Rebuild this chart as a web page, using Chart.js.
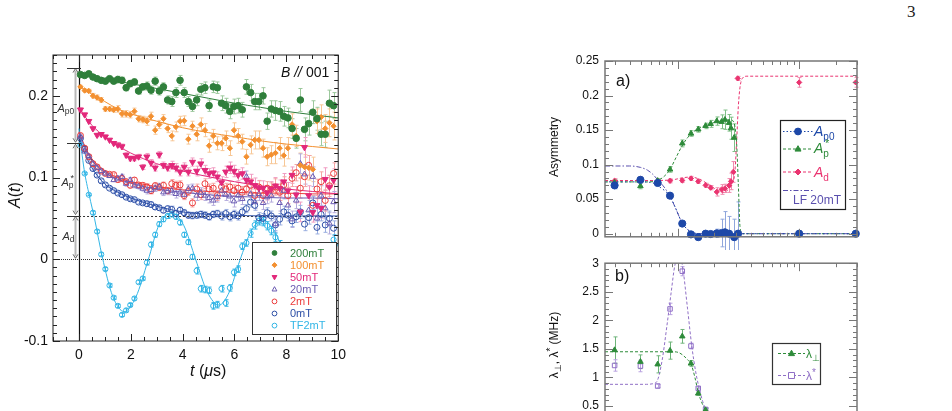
<!DOCTYPE html>
<html>
<head>
<meta charset="utf-8">
<script src="https://cdn.jsdelivr.net/npm/chart.js@4.4.1/dist/chart.umd.min.js"></script>
<style>
  html, body { margin: 0; padding: 0; background: #fff; }
  body { width: 952px; height: 411px; overflow: hidden; position: relative; }
  canvas { position: absolute; }
  #pageNo { position: absolute; left: 907px; top: 2px; font: 17px "Liberation Serif", serif; color: #222; }
</style>
</head>
<body>
<div id="pageNo">3</div>
<canvas id="leftChart" width="352" height="411" style="left:0;top:0"></canvas>
<canvas id="asymChart" width="412" height="250" style="left:540px;top:0"></canvas>
<canvas id="rateChart" width="412" height="200" style="left:540px;top:250px"></canvas>
<script>
// ---------- left panel: A(t) spectra ----------
const fieldLabels = ['200mT', '100mT', '50mT', '20mT', '2mT', '0mT', 'TF2mT'];
const leftXTicks = [0, 2, 4, 6, 8, 10];
const leftYTicks = [-0.1, 0, 0.1, 0.2];

const times = [0.06,0.22,0.38,0.54,0.70,0.86,1.02,1.18,1.34,1.50,1.66,1.82,1.98,2.14,2.30,2.46,2.62,2.78,2.94,3.10,
  3.26,3.42,3.58,3.74,3.90,4.06,4.22,4.38,4.54,4.70,4.86,5.02,5.18,5.34,5.50,5.66,5.82,5.98,6.14,6.30,
  6.46,6.62,6.78,6.94,7.10,7.26,7.42,7.58,7.74,7.90,8.06,8.22,8.38,8.54,8.70,8.86,9.02,9.18,9.34,9.50,9.66,9.82];

const a200 = [0.226,0.225,0.227,0.223,0.221,0.219,0.218,0.221,0.218,0.220,0.219,0.210,0.215,0.217,0.206,0.211,0.212,0.207,0.218,0.206,
  0.211,0.195,0.193,0.204,0.219,0.204,0.193,0.187,0.195,0.208,0.210,0.188,0.211,0.210,0.191,0.188,0.181,0.187,0.188,0.183,
  0.211,0.204,0.193,0.193,0.200,0.169,0.184,0.182,0.181,0.175,0.173,0.160,0.148,0.195,0.159,0.166,0.180,0.172,0.153,0.153,0.191,0.188];
const a100 = [0.211,0.2065,0.206,0.200,0.198,0.195,0.184,0.184,0.183,0.184,0.178,0.178,0.177,0.181,0.172,0.171,0.169,0.175,0.158,0.165,
  0.172,0.160,0.151,0.162,0.169,0.1695,0.147,0.163,0.153,0.165,0.158,0.139,0.151,0.142,0.142,0.148,0.136,0.158,0.151,0.144,
  0.1255,0.140,0.146,0.146,0.136,0.1255,0.128,0.130,0.136,0.127,0.136,0.165,0.151,0.115,0.113,0.112,0.110,0.169,0.174,0.160,0.167,0.163];
const a50 = [0.183,0.177,0.169,0.160,0.152,0.153,0.150,0.146,0.142,0.140,0.138,0.1275,0.1235,0.1235,0.1255,0.113,0.1255,0.118,0.112,0.128,
  0.115,0.112,0.115,0.112,0.107,0.113,0.107,0.119,0.108,0.117,0.109,0.105,0.106,0.101,0.094,0.107,0.112,0.108,0.103,0.105,
  0.097,0.095,0.0905,0.087,0.087,0.0815,0.086,0.090,0.087,0.095,0.084,0.103,0.079,0.058,0.137,0.078,0.0575,0.066,0.0625,0.098,0.0885,0.0967];
const a20 = [0.150,0.132,0.126,0.117,0.112,0.108,0.105,0.102,0.097,0.099,0.101,0.0925,0.097,0.0905,0.089,0.0865,0.084,0.085,0.087,0.089,
  0.082,0.083,0.084,0.080,0.082,0.079,0.086,0.087,0.078,0.0815,0.078,0.075,0.072,0.076,0.084,0.079,0.077,0.071,0.078,0.074,
  0.101,0.080,0.070,0.080,0.069,0.076,0.078,0.043,0.069,0.084,0.066,0.049,0.072,0.117,0.104,0.060,0.101,0.050,0.078,0.0625,0.044,0.070];
const a2 = [0.1515,0.136,0.1255,0.117,0.113,0.108,0.105,0.104,0.1037,0.0975,0.099,0.095,0.0905,0.097,0.091,0.0905,0.0885,0.084,0.090,0.088,
  0.0905,0.084,0.0925,0.0905,0.091,0.078,0.083,0.069,0.086,0.079,0.0925,0.086,0.087,0.078,0.0885,0.086,0.0885,0.084,0.087,0.082,
  0.086,0.0905,0.078,0.0885,0.078,0.087,0.0855,0.0885,0.082,0.091,0.078,0.099,0.106,0.087,0.101,0.115,0.066,0.086,0.095,0.072,0.090,0.105];
const a0 = [0.148,0.135,0.121,0.111,0.103,0.096,0.091,0.087,0.084,0.081,0.079,0.076,0.074,0.073,0.070,0.069,0.068,0.067,0.064,0.063,
  0.060,0.062,0.061,0.056,0.060,0.057,0.054,0.0535,0.054,0.055,0.054,0.052,0.055,0.056,0.053,0.056,0.052,0.055,0.053,0.058,
  0.062,0.070,0.066,0.051,0.050,0.057,0.053,0.042,0.049,0.058,0.054,0.047,0.052,0.058,0.043,0.051,0.069,0.039,0.055,0.042,0.050,0.038];
const aTF = [0.140,0.105,0.079,0.057,0.034,0.006,-0.012,-0.032,-0.047,-0.057,-0.068,-0.0625,-0.056,-0.048,-0.028,-0.0235,-0.004,0.018,0.030,0.043,
  0.049,0.053,0.055,0.052,0.045,0.030,0.021,0.003,-0.014,-0.036,-0.037,-0.038,-0.057,-0.0555,-0.036,-0.0535,-0.035,-0.016,-0.012,0.016,
  0.020,0.032,0.042,0.047,0.046,0.041,0.035,0.027,0.018,0.005,-0.010,-0.022,-0.033,-0.040,-0.045,-0.046,-0.043,-0.036,-0.026,-0.012,0.008,0.024];

// error bar half-widths, one per whole microsecond (t = 0..10)
const err200 = [0.002,0.003,0.004,0.005,0.006,0.007,0.009,0.010,0.012,0.014,0.016];
const err100 = [0.002,0.003,0.004,0.005,0.006,0.008,0.009,0.011,0.013,0.015,0.017];
const err50 = [0.002,0.002,0.003,0.004,0.005,0.006,0.007,0.009,0.010,0.012,0.014];
const err20 = [0.002,0.002,0.003,0.004,0.005,0.006,0.007,0.008,0.010,0.012,0.013];
const err2 = [0.002,0.002,0.003,0.004,0.005,0.006,0.007,0.008,0.010,0.012,0.013];
const err0 = [0.001,0.002,0.002,0.003,0.004,0.004,0.005,0.006,0.007,0.008,0.009];
const errTF = [0.001,0.002,0.002,0.003,0.003,0.004,0.004,0.005,0.005,0.006,0.006];

// fitted curves
const fitT = [0, 0.25, 0.5, 1, 1.5, 2, 3, 4, 5, 6, 7, 8, 9, 10];
const fit200 = [0.227,0.2255,0.224,0.221,0.218,0.215,0.209,0.203,0.197,0.191,0.186,0.181,0.177,0.173];
const fit100 = [0.212,0.207,0.202,0.193,0.184,0.178,0.169,0.161,0.155,0.150,0.145,0.141,0.138,0.135];
const fit50 = [0.186,0.174,0.164,0.150,0.139,0.130,0.117,0.108,0.101,0.095,0.090,0.086,0.083,0.080];
const fit20 = [0.155,0.135,0.121,0.106,0.098,0.093,0.086,0.082,0.079,0.077,0.076,0.075,0.075,0.074];
const fit2 = [0.156,0.137,0.123,0.108,0.100,0.095,0.089,0.085,0.083,0.082,0.081,0.081,0.080,0.080];
const fit0 = [0.150,0.128,0.112,0.092,0.082,0.075,0.065,0.058,0.055,0.054,0.053,0.053,0.053,0.053];
const fitTFT = [0,0.2,0.4,0.6,0.9,1.3,1.75,2.2,2.66,3.1,3.6,4.05,4.5,4.95,5.4,5.8,6.2,6.65,7.1,7.55,8.0,8.45,8.9,9.35,9.75,10];
const fitTF = [0.16,0.11,0.078,0.05,0.003,-0.045,-0.064,-0.046,-0.002,0.043,0.056,0.041,0.0,-0.04,-0.056,-0.04,-0.002,0.035,0.048,0.034,0.0,-0.034,-0.048,-0.033,0.0,0.02];

// levels of the asymmetry components marked on the left
const levelAp0 = 0.2346, levelApStar = 0.142, levelAd = 0.0535;

// ---------- right panel a): asymmetries vs temperature ----------
const asymYTicks = [0, 0.05, 0.1, 0.15, 0.2, 0.25];
const ap0T = [0.30,0.49,0.68,0.86,1.085,1.28,1.47,1.69,1.86,2.09,2.29,2.44,2.64,2.91,3.13,10,29.3];
const ap0 = [0.070,0.078,0.0735,0.055,0.0147,-0.001,-0.005,0.0,-0.0005,0.0005,0.001,0.002,0.0,-0.005,0.0,0.0,0.0];
const ap0Err = [0.005,0.004,0.003,0.003,0.003,0.003,0.003,0.003,0.004,0.006,0.02,0.03,0.025,0.026,0.046,0.004,0.003];
const apsT = [0.30,0.49,0.68,0.86,1.085,1.28,1.47,1.69,1.86,2.09,2.29,2.44,2.64,2.74,2.91,10,29.3];
const aps = [0.074,0.069,0.0766,0.093,0.1307,0.145,0.151,0.156,0.159,0.163,0.162,0.165,0.1605,0.1527,0.139,0.0,0.0];
const apsErr = [0.004,0.004,0.003,0.004,0.005,0.004,0.004,0.004,0.005,0.006,0.01,0.014,0.012,0.016,0.02,0.004,0.003];
const adT = [0.30,0.49,0.68,0.86,1.085,1.28,1.47,1.69,1.86,2.09,2.29,2.44,2.64,2.74,2.86,3.11,10,29.3];
const ad = [0.0766,0.079,0.0757,0.0766,0.077,0.080,0.0757,0.070,0.0666,0.0605,0.064,0.0656,0.0698,0.0757,0.0894,0.2248,0.219,0.219];
const adErr = [0.003,0.003,0.003,0.003,0.003,0.003,0.003,0.003,0.003,0.006,0.007,0.006,0.01,0.012,0.015,0.003,0.007,0.007];

const fitAp0T = [0.25,0.5,0.62,0.7,0.78,0.86,0.95,1.08,1.2,1.35,1.6,3,30];
const fitAp0 = [0.075,0.075,0.0735,0.068,0.062,0.054,0.038,0.016,0.006,0.001,0,0,0];
const fitLfT = [0.25,0.4,0.49,0.56,0.62,0.68,0.78,0.86,0.95,1.08,1.2,1.35,1.6,3,30];
const fitLf = [0.098,0.098,0.096,0.092,0.086,0.078,0.066,0.054,0.038,0.016,0.006,0.001,0,0,0];
const fitApsT = [0.25,0.55,0.68,0.78,0.86,0.95,1.08,1.2,1.35,1.6,2.0,2.4,2.7,2.85,2.95,3.05,3.15,3.25,3.4,30];
const fitAps = [0.075,0.075,0.077,0.084,0.093,0.108,0.127,0.139,0.148,0.155,0.161,0.164,0.165,0.163,0.155,0.13,0.07,0.01,0,0];
const fitAdT = [0.25,0.6,0.9,1.1,1.28,1.5,1.8,2.1,2.35,2.6,2.8,2.95,3.05,3.15,3.25,3.4,3.7,30];
const fitAd = [0.077,0.077,0.078,0.081,0.082,0.079,0.071,0.063,0.060,0.064,0.073,0.09,0.135,0.185,0.212,0.225,0.228,0.228];

// ---------- right panel b): relaxation rates ----------
const rateYTicks = [0, 0.5, 1, 1.5, 2, 2.5, 3];
const lamT = [0.30,0.49,0.68,0.86,1.085,1.28,1.47,1.69];
const lamPerp = [1.48,1.275,1.23,1.47,1.72,1.245,0.72,0.43];
const lamPerpErr = [0.23,0.12,0.15,0.15,0.12,0.05,0.03,0.03];
const lamStar = [1.21,1.2,0.85,2.2,2.86,1.55,0.81,0.44];
const lamStarErr = [0.1,0.1,0.03,0.1,0.08,0.05,0.03,0.03];
const fitPerpT = [0.25,0.9,1.0,1.1,1.2,1.28,1.38,1.47,1.58,1.69,1.8];
const fitPerp = [1.45,1.45,1.44,1.39,1.31,1.24,1.0,0.74,0.55,0.42,0.3];
const fitStarT = [0.25,0.55,0.62,0.67,0.74,0.81,0.88,0.94,1.02,1.09,1.2,1.3,1.4,1.47,1.6,1.69,1.8];
const fitStar = [0.88,0.88,0.89,0.93,1.3,1.9,2.5,2.95,3.15,2.95,2.2,1.55,1.1,0.88,0.58,0.44,0.32];

Chart.defaults.font.family = '"Liberation Sans", Arial, sans-serif';
Chart.defaults.animation = false;

const pts = (xs, ys) => xs.map((x, i) => ({ x, y: ys[i] }));
const FONT = '"Liberation Sans", Arial, sans-serif';

function markerPath(ctx, style, x, y, r) {
    ctx.beginPath();
    if (style === 'circle') {
        ctx.arc(x, y, r, 0, Math.PI * 2);
    } else if (style === 'rectRot') {
        ctx.moveTo(x, y - r * 1.25); ctx.lineTo(x + r * 1.25, y);
        ctx.lineTo(x, y + r * 1.25); ctx.lineTo(x - r * 1.25, y); ctx.closePath();
    } else if (style === 'triangle') {
        ctx.moveTo(x, y - r * 1.1); ctx.lineTo(x + r, y + r * 0.7); ctx.lineTo(x - r, y + r * 0.7); ctx.closePath();
    } else if (style === 'triangleDown') {
        ctx.moveTo(x, y + r * 1.1); ctx.lineTo(x + r, y - r * 0.7); ctx.lineTo(x - r, y - r * 0.7); ctx.closePath();
    } else if (style === 'rect') {
        ctx.rect(x - r, y - r, 2 * r, 2 * r);
    }
}

function drawMarker(ctx, style, x, y, r, color, filled) {
    ctx.save();
    markerPath(ctx, style, x, y, r);
    if (filled) { ctx.fillStyle = color; ctx.fill(); }
    ctx.strokeStyle = color; ctx.lineWidth = 1; ctx.stroke();
    ctx.restore();
}

// text made of pieces: {t, s (size), i (italic), dy, gap}
function drawRich(ctx, x, y, parts, color) {
    ctx.save();
    ctx.fillStyle = color;
    ctx.textBaseline = 'alphabetic';
    let cx = x;
    parts.forEach(p => {
        ctx.font = (p.i ? 'italic ' : '') + p.s + 'px ' + (p.f || FONT);
        ctx.fillText(p.t, cx, y + (p.dy || 0));
        cx += ctx.measureText(p.t).width + (p.gap || 0);
    });
    ctx.restore();
    return cx - x;
}

function richWidth(ctx, parts) {
    let w = 0;
    ctx.save();
    parts.forEach(p => {
        ctx.font = (p.i ? 'italic ' : '') + p.s + 'px ' + (p.f || FONT);
        w += ctx.measureText(p.t).width + (p.gap || 0);
    });
    ctx.restore();
    return w;
}

function drawRotated(ctx, cx, cy, parts, color) {
    ctx.save();
    ctx.translate(cx, cy);
    ctx.rotate(-Math.PI / 2);
    const w = richWidth(ctx, parts);
    drawRich(ctx, -w / 2, 5, parts, color);
    ctx.restore();
}

// inward ticks on all four sides plus the frame
function drawFrame(chart, spec) {
    const { ctx, chartArea: a, scales: { x, y } } = chart;
    ctx.save();
    ctx.strokeStyle = spec.color;
    ctx.lineWidth = 1;
    ctx.beginPath();
    const xs = (vals, len) => vals.forEach(v => {
        const px = Math.round(x.getPixelForValue(v)) + 0.5;
        ctx.moveTo(px, a.bottom); ctx.lineTo(px, a.bottom - len);
        ctx.moveTo(px, a.top); ctx.lineTo(px, a.top + len);
    });
    const ys = (vals, len) => vals.forEach(v => {
        const py = Math.round(y.getPixelForValue(v)) + 0.5;
        ctx.moveTo(a.left, py); ctx.lineTo(a.left + len, py);
        ctx.moveTo(a.right, py); ctx.lineTo(a.right - len, py);
    });
    xs(spec.xMinor, spec.minLen); xs(spec.xMajor, spec.majLen);
    ys(spec.yMinor, spec.minLen); ys(spec.yMajor, spec.majLen);
    ctx.stroke();
    ctx.lineWidth = spec.width;
    ctx.strokeRect(a.left, a.top, a.right - a.left, a.bottom - a.top);
    ctx.restore();
}

const errorBars = {
    id: 'errorBars',
    beforeDatasetsDraw(chart) {
        const { ctx, scales: { x, y } } = chart;
        ctx.save();
        ctx.lineWidth = 1;
        chart.data.datasets.forEach(ds => {
            if (!ds.errs) return;
            ctx.strokeStyle = ds.errColor;
            ctx.beginPath();
            ds.data.forEach((p, j) => {
                const e = ds.errs[j];
                const px = Math.round(x.getPixelForValue(p.x)) + 0.5;
                const y1 = y.getPixelForValue(p.y - e), y2 = y.getPixelForValue(p.y + e);
                ctx.moveTo(px, y1); ctx.lineTo(px, y2);
                ctx.moveTo(px - 2, y1); ctx.lineTo(px + 2, y1);
                ctx.moveTo(px - 2, y2); ctx.lineTo(px + 2, y2);
            });
            ctx.stroke();
        });
        ctx.restore();
    }
};

// ---------- build left chart ----------
const leftSeries = [
    { y: a200, fit: fit200, fitX: fitT, errs: err200, color: '#2f7f3b', errColor: '#9cc89c', style: 'circle', filled: true, r: 3.3 },
    { y: a100, fit: fit100, fitX: fitT, errs: err100, color: '#f39030', errColor: '#f7c796', style: 'rectRot', filled: true, r: 2.7 },
    { y: a50, fit: fit50, fitX: fitT, errs: err50, color: '#e2287a', errColor: '#f19cc2', style: 'triangleDown', filled: true, r: 3.5 },
    { y: a20, fit: fit20, fitX: fitT, errs: err20, color: '#6b5bb2', errColor: '#b5acdc', style: 'triangle', filled: false, r: 3.2 },
    { y: a2, fit: fit2, fitX: fitT, errs: err2, color: '#ec3b3b', errColor: '#f4a4a4', style: 'circle', filled: false, r: 3 },
    { y: a0, fit: fit0, fitX: fitT, errs: err0, color: '#2d4fa6', errColor: '#9aaee0', style: 'circle', filled: false, r: 3 },
    { y: aTF, fit: fitTF, fitX: fitTFT, errs: errTF, color: '#33b6e6', errColor: '#33b6e6', style: 'circle', filled: false, r: 2.6 }
];

function pointDataset(xs, ys, s, errs) {
    return {
        data: pts(xs, ys), showLine: false, order: 0, errs, errColor: s.errColor,
        pointStyle: s.style === 'triangleDown' ? 'triangle' : s.style,
        rotation: s.style === 'triangleDown' ? 180 : 0,
        pointRadius: s.r, pointBorderWidth: 1, pointBorderColor: s.color,
        pointBackgroundColor: s.filled ? s.color : 'rgba(255,255,255,0)'
    };
}
function fitDataset(xs, ys, color, dash, width) {
    return {
        data: pts(xs, ys), order: 1, borderColor: color, borderWidth: width || 1,
        borderDash: dash || [], pointRadius: 0, cubicInterpolationMode: 'monotone', fill: false
    };
}

const leftDatasets = [];
leftSeries.forEach(s => {
    leftDatasets.push(pointDataset(times, s.y, s, times.map(t => s.errs[Math.round(t)])));
    leftDatasets.push(fitDataset(s.fitX, s.fit, s.color));
});

function minorSteps(from, to, step) {
    const out = [];
    for (let k = Math.round(from / step); k <= Math.round(to / step); k++) out.push(+(k * step).toFixed(4));
    return out;
}

const leftDecor = {
    id: 'leftDecor',
    beforeDatasetsDraw(chart) {
        const { ctx, chartArea: a, scales: { x, y } } = chart;
        ctx.save();
        ctx.strokeStyle = '#333';
        ctx.lineWidth = 1;
        ctx.setLineDash([1, 1]);
        let py = Math.round(y.getPixelForValue(0)) + 0.5;
        ctx.beginPath(); ctx.moveTo(a.left, py); ctx.lineTo(a.right, py); ctx.stroke();
        ctx.setLineDash([2, 2]);
        py = Math.round(y.getPixelForValue(levelAd)) + 0.5;
        ctx.beginPath(); ctx.moveTo(x.getPixelForValue(-0.15), py); ctx.lineTo(a.right, py); ctx.stroke();
        ctx.setLineDash([]);
        ctx.strokeStyle = '#111';
        ctx.lineWidth = 1.2;
        const px = Math.round(x.getPixelForValue(0)) + 0.5;
        ctx.beginPath(); ctx.moveTo(px, a.top); ctx.lineTo(px, a.bottom); ctx.stroke();
        ctx.restore();
    },
    afterDraw(chart) {
        const { ctx, scales: { y } } = chart;
        drawFrame(chart, {
            color: '#222', width: 1, majLen: 7, minLen: 4,
            xMajor: leftXTicks, xMinor: minorSteps(-1, 10, 0.5),
            yMajor: leftYTicks, yMinor: minorSteps(-0.1, 0.25, 0.01)
        });
        // component arrows
        const ax = 75.5;
        const levels = [levelAp0, levelApStar, levelAd, 0];
        ctx.save();
        for (let i = 0; i < 3; i++) {
            const y1 = y.getPixelForValue(levels[i]) + 1, y2 = y.getPixelForValue(levels[i + 1]) - 1;
            ctx.strokeStyle = '#b8b8b8'; ctx.lineWidth = 2;
            ctx.beginPath(); ctx.moveTo(ax, y1 + 2); ctx.lineTo(ax, y2 - 2); ctx.stroke();
            ctx.strokeStyle = '#666'; ctx.lineWidth = 1;
            ctx.beginPath();
            ctx.moveTo(ax - 2.5, y1 + 4); ctx.lineTo(ax, y1); ctx.lineTo(ax + 2.5, y1 + 4);
            ctx.moveTo(ax - 2.5, y2 - 4); ctx.lineTo(ax, y2); ctx.lineTo(ax + 2.5, y2 - 4);
            ctx.stroke();
        }
        ctx.strokeStyle = '#333'; ctx.lineWidth = 1.2;
        ctx.beginPath();
        [levelAp0, levelApStar, levelAd].forEach(v => {
            const py = Math.round(y.getPixelForValue(v)) + 0.5;
            ctx.moveTo(67, py); ctx.lineTo(81, py);
        });
        ctx.stroke();
        ctx.restore();
        drawRich(ctx, 57.5, 112, [{ t: 'A', s: 11, i: true }, { t: 'p0', s: 8.5, dy: 2 }], '#333');
        drawRich(ctx, 61.5, 186, [{ t: 'A', s: 11, i: true }, { t: 'p', s: 8.5, dy: 2, gap: -3 }, { t: '*', s: 9, dy: -5 }], '#333');
        drawRich(ctx, 62.5, 240, [{ t: 'A', s: 11, i: true }, { t: 'd', s: 8.5, dy: 2 }], '#333');

        // B // 001
        drawRich(ctx, 281, 77, [{ t: 'B', s: 14, i: true }, { t: ' // ', s: 14, i: true }, { t: '001', s: 14 }], '#111');

        // axis titles
        drawRotated(ctx, 15, 195, [{ t: 'A', s: 16, i: true }, { t: '(', s: 16 }, { t: 't', s: 16, i: true }, { t: ')', s: 16 }], '#111');
        drawRich(ctx, 190, 376, [{ t: 't', s: 16, i: true }, { t: ' (', s: 16 }, { t: 'μ', s: 16, i: true }, { t: 's)', s: 16 }], '#111');

        // legend
        ctx.save();
        ctx.fillStyle = '#fff';
        ctx.fillRect(253, 243, 84, 92);
        ctx.strokeStyle = '#333'; ctx.lineWidth = 1;
        ctx.strokeRect(252.5, 242.5, 84, 92);
        ctx.font = '11px ' + FONT;
        ctx.textBaseline = 'middle';
        leftSeries.forEach((s, i) => {
            const ly = 253 + i * 12.1;
            drawMarker(ctx, s.style, 274.5, ly, s.style === 'rectRot' ? 2 : 2.4, s.color, s.filled);
            ctx.fillStyle = s.color;
            ctx.fillText(fieldLabels[i], 290, ly + 0.5);
        });
        ctx.restore();
    }
};

new Chart(document.getElementById('leftChart'), {
    type: 'line',
    data: { datasets: leftDatasets },
    options: {
        responsive: false,
        devicePixelRatio: 1,
        layout: { padding: { top: 55, right: 13, left: 0, bottom: 0 } },
        plugins: { legend: { display: false }, tooltip: { enabled: false } },
        scales: {
            x: {
                type: 'linear', min: -1, max: 10,
                afterBuildTicks: s => { s.ticks = leftXTicks.map(v => ({ value: v })); },
                afterFit: s => { s.height = 70; },
                grid: { display: false, drawTicks: false }, border: { display: false },
                ticks: { font: { size: 14 }, color: '#111', padding: 6, maxRotation: 0, autoSkip: false, callback: v => String(v) }
            },
            y: {
                min: -0.1, max: 0.25,
                afterBuildTicks: s => { s.ticks = leftYTicks.map(v => ({ value: v })); },
                afterFit: s => { s.width = 53; },
                grid: { display: false, drawTicks: false }, border: { display: false },
                ticks: { font: { size: 14 }, color: '#111', padding: 5, autoSkip: false, callback: v => String(v) }
            }
        }
    },
    plugins: [errorBars, leftDecor]
});

// ---------- right charts ----------
const logMajor = [1, 10];
const logMinor = [];
[0.1, 1, 10].forEach(d => { for (let m = 2; m <= 9; m++) { const v = m * d; if (v >= 0.25 && v <= 30) logMinor.push(+v.toFixed(3)); } });

const C = { blue: '#1d48a8', green: '#2e8b3a', pink: '#ea3470', lf: '#5a4fae', star: '#9070c6' };

function rightScales(yMin, yMax, yTicks, xHeight) {
    return {
        x: {
            type: 'logarithmic', min: 0.25, max: 30,
            afterBuildTicks: s => { s.ticks = []; },
            afterFit: s => { s.height = xHeight; },
            grid: { display: false, drawTicks: false }, border: { display: false },
            ticks: { display: false }
        },
        y: {
            min: yMin, max: yMax,
            afterBuildTicks: s => { s.ticks = yTicks.map(v => ({ value: v })); },
            afterFit: s => { s.width = 65; },
            grid: { display: false, drawTicks: false }, border: { display: false },
            ticks: { font: { size: 12 }, color: '#111', padding: 6, autoSkip: false, callback: v => String(v) }
        }
    };
}

function rightPoints(xs, ys, errs, color, errColor, style, filled, r) {
    const d = pointDataset(xs, ys, { style, filled, r, color, errColor }, errs);
    d.clip = false;
    return d;
}

const asymDecor = {
    id: 'asymDecor',
    afterDraw(chart) {
        const { ctx } = chart;
        drawFrame(chart, {
            color: '#777', width: 1.5, majLen: 8, minLen: 4,
            xMajor: logMajor, xMinor: logMinor,
            yMajor: asymYTicks, yMinor: minorSteps(0, 0.25, 0.01)
        });
        drawRich(ctx, 76, 86, [{ t: 'a)', s: 16 }], '#111');
        drawRotated(ctx, 13, 147, [{ t: 'Asymmetry', s: 12 }], '#111');
        // legend
        ctx.save();
        ctx.fillStyle = '#fff'; ctx.fillRect(241, 121, 65, 89);
        ctx.strokeStyle = '#222'; ctx.lineWidth = 1.2; ctx.strokeRect(240.5, 120.5, 65, 89);
        const rows = [
            { y: 131, color: C.blue, dash: [1.5, 2], style: 'circle', filled: true, r: 3.4 },
            { y: 148.5, color: C.green, dash: [3, 2], style: 'triangle', filled: true, r: 3 },
            { y: 171.5, color: C.pink, dash: [3, 2], style: 'rectRot', filled: true, r: 2.4 },
            { y: 190, color: C.lf, dash: [5, 2, 1.5, 2] }
        ];
        rows.forEach(rw => {
            ctx.strokeStyle = rw.color; ctx.lineWidth = 1; ctx.setLineDash(rw.dash);
            ctx.beginPath(); ctx.moveTo(243, rw.y + 0.5); ctx.lineTo(273, rw.y + 0.5); ctx.stroke();
            ctx.setLineDash([]);
            if (rw.style) drawMarker(ctx, rw.style, 258, rw.y + 0.5, rw.r, rw.color, rw.filled);
        });
        ctx.restore();
        drawRich(ctx, 274, 136, [{ t: 'A', s: 14, i: true }, { t: 'p0', s: 10, dy: 4 }], C.blue);
        drawRich(ctx, 274, 153, [{ t: 'A', s: 14, i: true }, { t: 'p', s: 10, dy: 4, gap: -4 }, { t: '*', s: 11, dy: -6 }], C.green);
        drawRich(ctx, 274, 176.5, [{ t: 'A', s: 14, i: true }, { t: 'd', s: 10, dy: 4 }], C.pink);
        drawRich(ctx, 253, 204, [{ t: 'LF 20mT', s: 12 }], C.lf);
    }
};

new Chart(document.getElementById('asymChart'), {
    type: 'line',
    data: {
        datasets: [
            rightPoints(ap0T, ap0, ap0Err, C.blue, '#8fa6dc', 'circle', true, 3.6),
            rightPoints(apsT, aps, apsErr, C.green, '#7fbf86', 'triangle', true, 3.2),
            rightPoints(adT, ad, adErr, C.pink, '#f08aae', 'rectRot', true, 2.6),
            fitDataset(fitAp0T, fitAp0, C.blue, [1.5, 2.5]),
            fitDataset(fitLfT, fitLf, C.lf, [5, 2, 1.5, 2]),
            fitDataset(fitApsT, fitAps, C.green, [3, 2]),
            fitDataset(fitAdT, fitAd, C.pink, [3, 2])
        ]
    },
    options: {
        responsive: false,
        devicePixelRatio: 1,
        layout: { padding: { top: 61, right: 95, left: 0, bottom: 0 } },
        plugins: { legend: { display: false }, tooltip: { enabled: false } },
        scales: rightScales(-0.0045, 0.25, asymYTicks, 5)
    },
    plugins: [errorBars, asymDecor]
});

const rateDecor = {
    id: 'rateDecor',
    afterDraw(chart) {
        const { ctx } = chart;
        drawFrame(chart, {
            color: '#777', width: 1.5, majLen: 8, minLen: 4,
            xMajor: logMajor, xMinor: logMinor,
            yMajor: rateYTicks, yMinor: minorSteps(0, 3, 0.1)
        });
        drawRich(ctx, 75, 31, [{ t: 'b)', s: 16 }], '#111');
        drawRotated(ctx, 13, 95, [
            { t: 'λ', s: 12 }, { t: '⊥', s: 9, dy: 3 }, { t: ', λ', s: 12 }, { t: '*', s: 10, dy: -4 }, { t: ' (MHz)', s: 12 }
        ], '#111');
        ctx.save();
        ctx.fillStyle = '#fff'; ctx.fillRect(233, 94, 48, 41);
        ctx.strokeStyle = '#333'; ctx.lineWidth = 1.2; ctx.strokeRect(232.5, 93.5, 48, 41);
        ctx.lineWidth = 1; ctx.setLineDash([3, 2]);
        ctx.strokeStyle = C.green;
        ctx.beginPath(); ctx.moveTo(238, 103.5); ctx.lineTo(265, 103.5); ctx.stroke();
        ctx.strokeStyle = C.star;
        ctx.beginPath(); ctx.moveTo(238, 125.5); ctx.lineTo(265, 125.5); ctx.stroke();
        ctx.setLineDash([]);
        ctx.fillStyle = '#fff'; ctx.fillRect(248, 122, 7, 7);
        drawMarker(ctx, 'triangle', 251.5, 103.5, 3, C.green, true);
        drawMarker(ctx, 'rect', 251.5, 125.5, 3, C.star, false);
        ctx.restore();
        drawRich(ctx, 266, 108, [{ t: 'λ', s: 12 }, { t: '⊥', s: 9, dy: 3 }], C.green);
        drawRich(ctx, 266, 130, [{ t: 'λ', s: 12 }, { t: '*', s: 10, dy: -4 }], C.star);
    }
};

new Chart(document.getElementById('rateChart'), {
    type: 'line',
    data: {
        datasets: [
            rightPoints(lamT, lamPerp, lamPerpErr, C.green, '#6fb47a', 'triangle', true, 3.2),
            rightPoints(lamT, lamStar, lamStarErr, C.star, '#b9a2e0', 'rect', false, 3.2),
            fitDataset(fitPerpT, fitPerp, C.green, [3, 2]),
            fitDataset(fitStarT, fitStar, C.star, [3, 2])
        ]
    },
    options: {
        responsive: false,
        devicePixelRatio: 1,
        layout: { padding: { top: 7, right: 95, left: 0, bottom: 0 } },
        plugins: { legend: { display: false }, tooltip: { enabled: false } },
        scales: rightScales(0, 3, rateYTicks, 15.4)
    },
    plugins: [errorBars, rateDecor]
});
</script>
</body>
</html>
